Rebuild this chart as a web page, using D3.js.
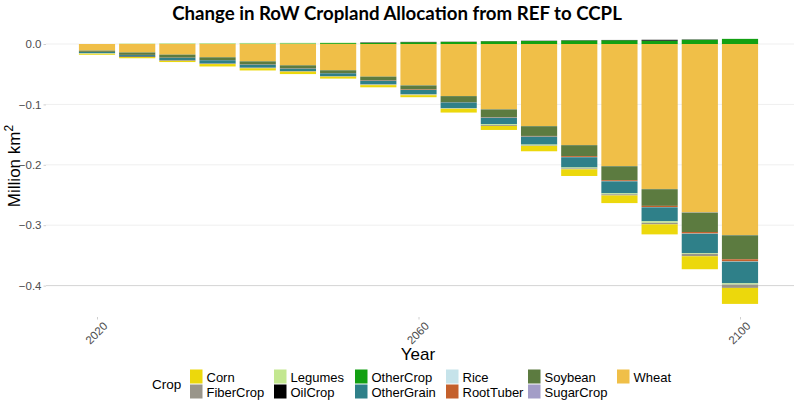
<!DOCTYPE html>
<html>
<head>
<meta charset="utf-8">
<script src="https://cdn.jsdelivr.net/npm/d3@7"></script>
<style>
  html, body { margin: 0; padding: 0; background: #ffffff; }
  svg { display: block; }
</style>
</head>
<body>
<svg id="chart" width="794" height="401"></svg>
<script>
// ---------------- DATA ----------------
const years = [2020, 2025, 2030, 2035, 2040, 2045, 2050, 2055, 2060, 2065, 2070, 2075, 2080, 2085, 2090, 2095, 2100];
const crops = ["Corn", "FiberCrop", "Legumes", "OilCrop", "OtherCrop", "OtherGrain", "Rice", "RootTuber", "Soybean", "SugarCrop", "Wheat"];
const cropColors = ["#ecd80c", "#99958a", "#c3e790", "#000000", "#13a013", "#2f8089", "#c6e3ea", "#c4602c", "#5c7b40", "#a39dc7", "#f0bf48"];

const corn       = [-0.0015, -0.002, -0.002, -0.004, -0.0036, -0.004, -0.0033, -0.0036, -0.0033, -0.006, -0.0066, -0.0088, -0.011, -0.0126, -0.0166, -0.0215, -0.0265];
const fiberCrop  = [-0.0003, -0.0005, -0.001, -0.0008, -0.001, -0.001, -0.0005, -0.0008, -0.001, -0.0005, -0.0015, -0.0007, -0.0015, -0.002, -0.0025, -0.004, -0.0055];
const legumes    = [-0.0008, 0.0008, 0.001, 0.001, 0.001, 0.001, 0.0008, -0.0005, -0.0008, -0.001, -0.0012, -0.0015, -0.0015, -0.0015, -0.0025, -0.0012, -0.002];
const oilCrop    = [0, -0.0008, -0.0005, 0, 0, 0, 0, 0.0006, 0.0005, 0.0003, 0.0003, 0.0004, 0.0005, 0.0005, 0.0015, 0.0005, 0];
const otherCrop  = [0, 0, 0.0003, 0.0005, 0.0008, 0.001, 0.0015, 0.002, 0.003, 0.0035, 0.0045, 0.005, 0.0058, 0.0062, 0.0055, 0.007, 0.0085];
const otherGrain = [-0.002, -0.002, -0.0035, -0.0055, -0.005, -0.004, -0.005, -0.006, -0.007, -0.0093, -0.011, -0.0132, -0.017, -0.0199, -0.0232, -0.032, -0.0359];
const rice       = [0, 0, 0, 0, 0, 0, 0, 0, 0, 0, -0.0002, -0.0002, -0.0003, -0.0003, -0.0004, -0.0004, -0.0005];
const rootTuber  = [-0.0002, -0.0003, -0.0003, -0.0004, -0.0005, -0.0005, -0.0005, -0.0008, -0.0008, -0.0005, -0.0008, -0.001, -0.0015, -0.0015, -0.002, -0.0025, -0.0035];
const soybean    = [-0.002, -0.004, -0.005, -0.0045, -0.005, -0.005, -0.0045, -0.006, -0.0066, -0.0099, -0.0127, -0.0161, -0.0182, -0.0232, -0.0276, -0.0321, -0.0397];
const sugarCrop  = [0, 0, 0, 0, 0, 0, 0, 0, -0.0002, -0.0002, -0.0002, -0.0003, -0.0003, -0.0004, -0.0004, -0.0005, -0.0005];
const wheat      = [-0.011, -0.014, -0.0176, -0.022, -0.0287, -0.0353, -0.0435, -0.054, -0.0684, -0.0861, -0.1081, -0.1358, -0.1672, -0.202, -0.240, -0.2787, -0.3162];

const xTickValues = [2020, 2060, 2100];
const yTickValues = [0, -0.1, -0.2, -0.3, -0.4];

const titleText = "Change in RoW Cropland Allocation from REF to CCPL";
const xTitle = "Year";
const yTitle = "Million km";
const legendTitle = "Crop";

// ---------------- BUILD ----------------
const seriesValues = [corn, fiberCrop, legumes, oilCrop, otherCrop, otherGrain, rice, rootTuber, soybean, sugarCrop, wheat];
const rows = years.map((yr, i) => {
  const r = { year: yr };
  crops.forEach((c, k) => r[c] = seriesValues[k][i]);
  return r;
});

const svg = d3.select("#chart");
const panel = { left: 46, right: 794, top: 25, bottom: 317 };
const FONT = "'Liberation Sans', Arial, sans-serif";

const x = d3.scaleLinear().domain([2020, 2100]).range([97, 740]);
const y = d3.scaleLinear().domain([0, -0.4]).range([44, 285.6]);
const color = d3.scaleOrdinal().domain(crops).range(cropColors);

// gridlines (horizontal only)
svg.append("g").selectAll("line")
  .data(yTickValues)
  .join("line")
  .attr("x1", panel.left).attr("x2", panel.right)
  .attr("y1", d => y(d)).attr("y2", d => y(d))
  .attr("stroke", d => d === -0.4 ? "#d4d4d4" : "#efefef")
  .attr("stroke-width", 1);

// stacking: diverging, later crops closest to zero
const stack = d3.stack()
  .keys(crops.slice().reverse())
  .offset(d3.stackOffsetDiverging);
const stacked = stack(rows);

const barW = (x(2025) - x(2020)) * 0.9;

svg.append("g").selectAll("g")
  .data(stacked)
  .join("g")
  .attr("fill", d => color(d.key))
  .selectAll("rect")
  .data(d => d)
  .join("rect")
  .attr("x", d => x(d.data.year) - barW / 2)
  .attr("width", barW)
  .attr("y", d => y(Math.max(d[0], d[1])))
  .attr("height", d => Math.abs(y(d[0]) - y(d[1])));

// Y axis
const yAxis = d3.axisLeft(y)
  .tickValues(yTickValues)
  .tickFormat(d => d === 0 ? "0.0" : d3.format(".1f")(d))
  .tickSize(2.5)
  .tickPadding(2);
const gy = svg.append("g")
  .attr("transform", `translate(${panel.left},0)`)
  .call(yAxis);
gy.select(".domain").remove();
gy.selectAll(".tick line").attr("stroke", "#cfcfcf");
gy.selectAll(".tick text")
  .attr("fill", "#4d4d4d")
  .style("font-family", FONT)
  .style("font-size", "11.5px");

// X axis
const xAxis = d3.axisBottom(x)
  .tickValues(xTickValues)
  .tickFormat(d3.format("d"))
  .tickSize(2.5)
  .tickPadding(3);
const gx = svg.append("g")
  .attr("transform", `translate(0,${panel.bottom})`)
  .call(xAxis);
gx.select(".domain").remove();
gx.selectAll(".tick line").attr("stroke", "#cfcfcf");
gx.selectAll(".tick text")
  .attr("fill", "#4d4d4d")
  .style("font-family", FONT)
  .style("font-size", "11.5px")
  .attr("text-anchor", "end")
  .attr("dy", null)
  .attr("y", 0)
  .attr("transform", "translate(8,7) rotate(-45)")
  .attr("dominant-baseline", "central");

// Title
const title = svg.append("text")
  .attr("x", 397)
  .attr("y", 20)
  .attr("text-anchor", "middle")
  .style("font-family", "Lato, 'Open Sans', sans-serif")
  .style("font-weight", "bold")
  .style("font-size", "18px")
  .attr("fill", "#000")
  .text(titleText);
const tl = title.node().getComputedTextLength();
title.style("font-size", (18 * 450 / tl).toFixed(2) + "px");

// Axis titles
svg.append("text")
  .attr("x", 418)
  .attr("y", 360)
  .attr("text-anchor", "middle")
  .style("font-family", FONT)
  .style("font-size", "17px")
  .attr("fill", "#000")
  .text(xTitle);

const yt = svg.append("text")
  .attr("transform", "translate(20,166) rotate(-90)")
  .attr("text-anchor", "middle")
  .style("font-family", FONT)
  .style("font-size", "17px")
  .attr("fill", "#000");
yt.append("tspan").text(yTitle);
yt.append("tspan").attr("dy", -7).style("font-size", "12px").text("2");

// Legend
const legend = svg.append("g");
legend.append("text")
  .attr("x", 152)
  .attr("y", 384)
  .attr("dominant-baseline", "central")
  .style("font-family", FONT)
  .style("font-size", "13.5px")
  .attr("fill", "#000")
  .text(legendTitle);

const colX = [190, 274, 355, 446, 528, 617];
const rowY = [369.5, 384.5];
crops.forEach((c, i) => {
  const col = Math.floor(i / 2), row = i % 2;
  const gx0 = colX[col], gy0 = rowY[row];
  legend.append("rect")
    .attr("x", gx0).attr("y", gy0)
    .attr("width", 12.5).attr("height", 14)
    .attr("fill", color(c));
  const t = legend.append("text")
    .attr("x", gx0 + 16.5)
    .attr("y", gy0 + 7.5)
    .attr("dominant-baseline", "central")
    .style("font-family", FONT)
    .style("font-size", "13px")
    .attr("fill", "#000")
    .text(c);
  const maxW = (col < colX.length - 1 ? colX[col + 1] - gx0 - 20 : 80);
  const w = t.node().getComputedTextLength();
  if (w > maxW) t.attr("textLength", maxW).attr("lengthAdjust", "spacingAndGlyphs");
});
</script>
</body>
</html>
